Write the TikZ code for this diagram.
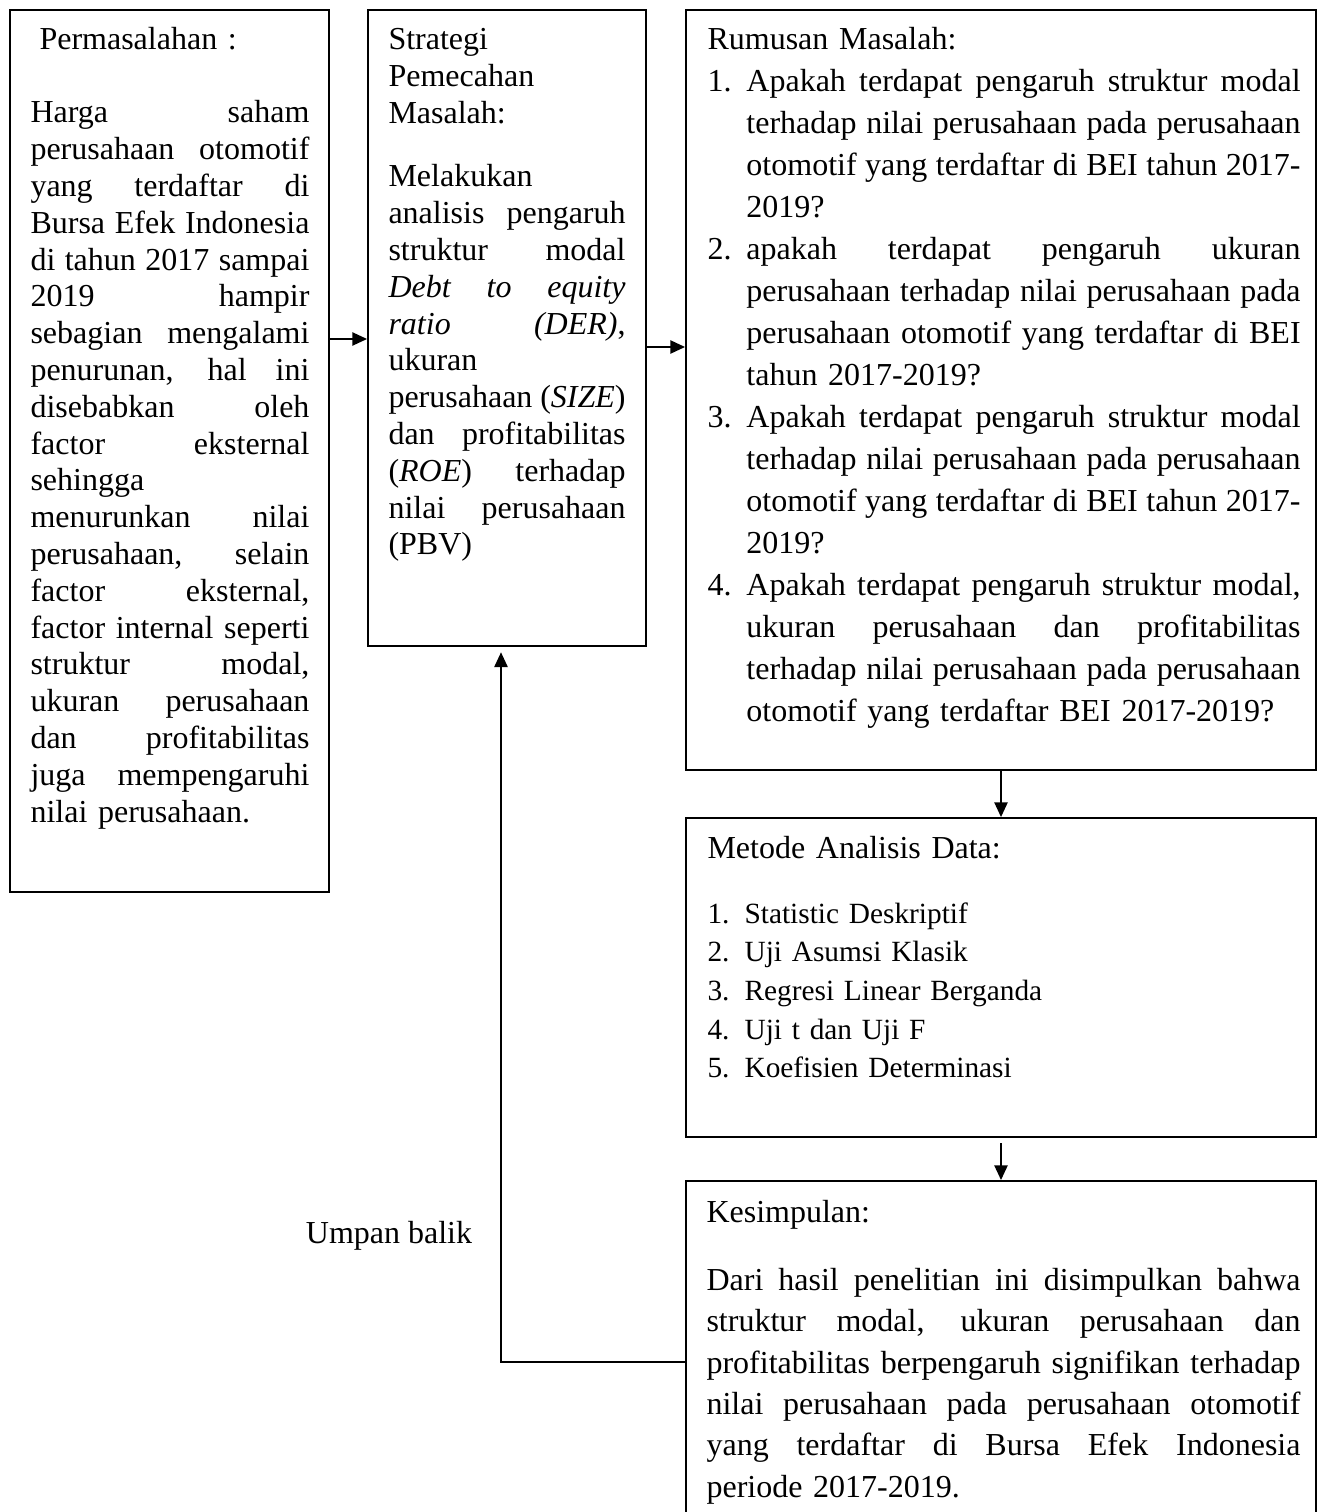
\documentclass[tikz,border=0pt]{standalone}
\usepackage{fontspec}
\setmainfont{Liberation Serif}
\usetikzlibrary{arrows.meta,positioning,calc}
\newlength{\numind}
\setlength{\numind}{14.6pt}
\newcommand{\jl}[1]{\makebox[\hsize][s]{\spaceskip=0.25em plus 1fil minus 0.1em #1}}
\newcommand{\jitem}[2]{\makebox[\numind][l]{#1}\makebox[\dimexpr\hsize-\numind\relax][s]{\spaceskip=0.25em plus 1fil minus 0.1em #2}}
\newcommand{\litem}[2]{\makebox[\numind][l]{#1}#2}
\tikzset{
  box/.style={draw, line width=0.75pt, inner sep=0pt, rectangle},
  txt/.style={anchor=base west, inner sep=0pt, align=left, font=\fontsize{12}{13.8}\selectfont},
  conn/.style={-{Triangle[length=5.5pt,width=5pt]}, line width=0.5pt},
}
\begin{document}
\begin{tikzpicture}[x=0.375pt, y=-0.375pt]
  \useasboundingbox (0,0) rectangle (1322,1512);
  \clip (0,0) rectangle (1322,1512);
  % boxes
  \node[box, minimum width=119.6pt, minimum height=330.75pt] (prob) at (169.5,451) {};
  \node[box, minimum width=104.25pt, minimum height=238.5pt] (strat) at (507,328) {};
  \node[box, minimum width=236.25pt, minimum height=285pt] (rumus) at (1001,390) {};
  \node[box, minimum width=236.25pt, minimum height=119.6pt] (metode) at (1001,977.5) {};
  \node[box, minimum width=236.25pt, minimum height=150pt] (simpul) at (1001,1381) {};
  % texts
  \node[txt, text width=110pt] (probhead) at (39,50) {Permasalahan :};
  \node[txt, text width=104.6pt] (probtext) at (30,123) {%
    \jl{Harga saham}\\
    \jl{perusahaan otomotif}\\
    \jl{yang terdaftar di}\\
    \jl{Bursa Efek Indonesia}\\
    \jl{di tahun 2017 sampai}\\
    \jl{2019 hampir}\\
    \jl{sebagian mengalami}\\
    \jl{penurunan, hal ini}\\
    \jl{disebabkan oleh}\\
    \jl{factor eksternal}\\
    sehingga\\
    \jl{menurunkan nilai}\\
    \jl{perusahaan, selain}\\
    \jl{factor eksternal,}\\
    \jl{factor internal seperti}\\
    \jl{struktur modal,}\\
    \jl{ukuran perusahaan}\\
    \jl{dan profitabilitas}\\
    \jl{juga mempengaruhi}\\
    nilai perusahaan.};
  \node[txt, text width=88.9pt] (strathead) at (388,50) {Strategi\\Pemecahan\\Masalah:};
  \node[txt, text width=88.9pt] (strattext) at (388,187) {%
    Melakukan\\
    \jl{analisis pengaruh}\\
    \jl{struktur modal}\\
    \jl{\textit{Debt to equity}}\\
    \jl{\textit{ratio (DER)},}\\
    ukuran\\
    \jl{perusahaan (\textit{SIZE})}\\
    \jl{dan profitabilitas}\\
    \jl{(\textit{ROE}) terhadap}\\
    \jl{nilai perusahaan}\\
    (PBV)};
  \node[txt, text width=222.4pt] (rumushead) at (707,50) {Rumusan Masalah:};
  \node[txt, text width=222.4pt, font=\fontsize{12}{15.75}\selectfont] (rumustext) at (707,92) {%
    \jitem{1.}{Apakah terdapat pengaruh struktur modal}\\
    \jitem{}{terhadap nilai perusahaan pada perusahaan}\\
    \jitem{}{otomotif yang terdaftar di BEI tahun 2017-}\\
    \litem{}{2019?}\\
    \jitem{2.}{apakah terdapat pengaruh ukuran}\\
    \jitem{}{perusahaan terhadap nilai perusahaan pada}\\
    \jitem{}{perusahaan otomotif yang terdaftar di BEI}\\
    \litem{}{tahun 2017-2019?}\\
    \jitem{3.}{Apakah terdapat pengaruh struktur modal}\\
    \jitem{}{terhadap nilai perusahaan pada perusahaan}\\
    \jitem{}{otomotif yang terdaftar di BEI tahun 2017-}\\
    \litem{}{2019?}\\
    \jitem{4.}{Apakah terdapat pengaruh struktur modal,}\\
    \jitem{}{ukuran perusahaan dan profitabilitas}\\
    \jitem{}{terhadap nilai perusahaan pada perusahaan}\\
    \litem{}{otomotif yang terdaftar BEI 2017-2019?}};
  \node[txt, text width=222.4pt] (metodehead) at (707,858) {Metode Analisis Data:};
  \node[txt, text width=222.4pt, font=\fontsize{11}{14.5}\selectfont] (metodetext) at (707,923) {%
    \setlength{\numind}{13.9pt}%
    \litem{1.}{Statistic Deskriptif}\\
    \litem{2.}{Uji Asumsi Klasik}\\
    \litem{3.}{Regresi Linear Berganda}\\
    \litem{4.}{Uji t dan Uji F}\\
    \litem{5.}{Koefisien Determinasi}};
  \node[txt, text width=222.75pt] (simpulhead) at (706,1222) {Kesimpulan:};
  \node[txt, text width=222.75pt, font=\fontsize{12}{15.56}\selectfont] (simpultext) at (706,1290) {%
    \jl{Dari hasil penelitian ini disimpulkan bahwa}\\
    \jl{struktur modal, ukuran perusahaan dan}\\
    \jl{profitabilitas berpengaruh signifikan terhadap}\\
    \jl{nilai perusahaan pada perusahaan otomotif}\\
    \jl{yang terdaftar di Bursa Efek Indonesia}\\
    periode 2017-2019.};
  \node[anchor=base, inner sep=0pt, font=\fontsize{12}{13.8}\selectfont] (umpan) at (389,1243) {Umpan balik};
  % arrows
  \coordinate (r1) at (0,339);
  \coordinate (r2) at (0,347);
  \coordinate (fb) at (501,1362);
  \draw[conn] (prob.east |- r1) -- (strat.west |- r1);
  \draw[conn] (strat.east |- r2) -- (rumus.west |- r2);
  \draw[conn] (rumus.south) -- (metode.north);
  \draw[conn, shorten <=2pt] (metode.south) -- (simpul.north);
  \draw[conn, shorten >=2pt] (simpul.west |- fb) -| (strat.south -| fb);
\end{tikzpicture}
\end{document}
